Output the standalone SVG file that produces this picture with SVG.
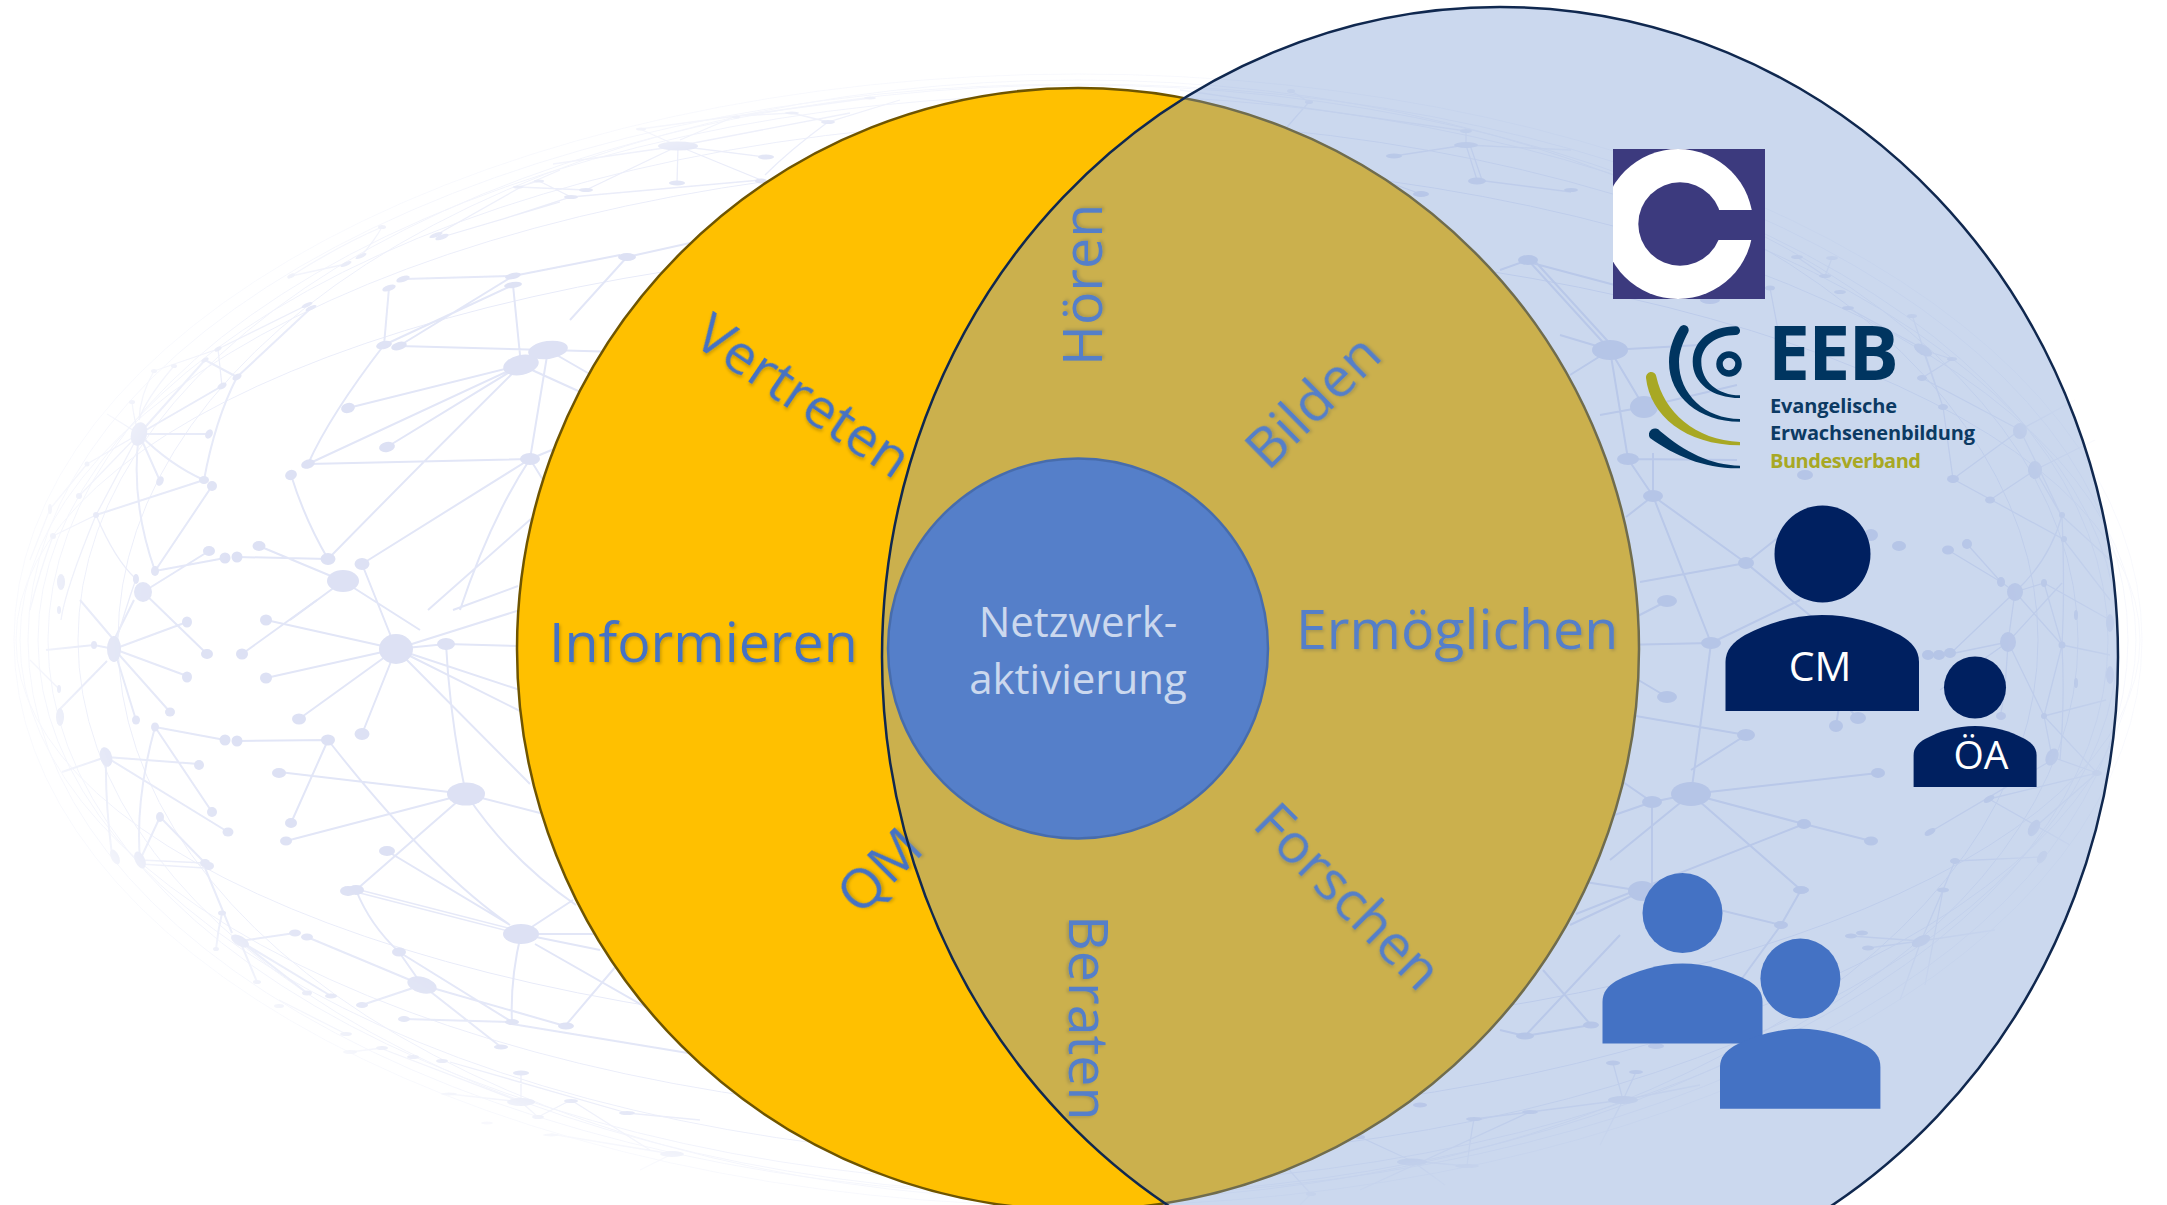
<svg xmlns="http://www.w3.org/2000/svg" width="2167" height="1205" viewBox="0 0 2167 1205">
<style>
text{font-family:"Open Sans","Noto Sans","Liberation Sans",sans-serif}
.lab{fill:#4472C4;font-size:55.5px;filter:url(#sh)}
.in{fill:#fff;font-size:42px;text-anchor:middle}
.wh{fill:#fff;text-anchor:middle}
.eb{font-weight:700;fill:#0C3A63;font-size:20px}
.dk{fill:#003560}
.ol{fill:#A8A824}
.pd{fill:#002060}
.pb{fill:#4472C4}
.nn ellipse{fill:#DDE1F4}
.e1{fill:none;stroke:#E2E6F7;stroke-width:2}
.e2{fill:none;stroke:#E6E9F8;stroke-width:1.3}
.rim{fill:none;stroke:#E8EBF9;stroke-width:1}
</style>
<defs>
<filter id="sh" x="-20%" y="-20%" width="140%" height="140%"><feDropShadow dx="1.5" dy="2" stdDeviation="1.8" flood-color="#000" flood-opacity=".2"/></filter>
<radialGradient id="fade" gradientUnits="userSpaceOnUse" cx="0" cy="0" r="1" gradientTransform="translate(1078 640) scale(1072 572)">
<stop offset="0" stop-color="#fff"/><stop offset=".8" stop-color="#fff"/><stop offset=".93" stop-color="#fff" stop-opacity=".75"/><stop offset="1" stop-color="#fff" stop-opacity=".22"/>
</radialGradient>
<mask id="gm" maskUnits="userSpaceOnUse" x="0" y="0" width="2167" height="1205"><rect width="2167" height="1205" fill="url(#fade)"/></mask>
<clipPath id="cq"><rect x="1613" y="149" width="152" height="150"/></clipPath>
</defs>
<rect width="2167" height="1205" fill="#fff"/>

<g id="network" mask="url(#gm)">
<g class="rim">
<ellipse cx="1078" cy="640" rx="1064" ry="566"/><ellipse cx="1078" cy="640" rx="1050" ry="556"/><ellipse cx="1078" cy="640" rx="1030" ry="545"/><ellipse cx="1078" cy="640" rx="1040" ry="520"/><ellipse cx="1078" cy="640" rx="1000" ry="555"/><ellipse cx="1078" cy="640" rx="960" ry="560"/><ellipse cx="1078" cy="640" rx="1058" ry="480"/><ellipse cx="1078" cy="640" rx="1062" ry="400"/>
</g>
<path class="e1" d="M521 365L513 285M521 365L348 408M521 365L308 464M521 365L387 447M521 365Q430 455 328 559M548 350L399 346M513 276L399 346M513 285L384 345M512 276L404 279M389 288L384 345M384 345Q330 415 308 464M291 475Q305 520 328 559M308 464L530 459M362 564L530 459M548 350L530 459M530 459Q490 520 460 610M530 459L543 480M530 459L600 430M428 610L532 518M518 586L453 610M259 546L343 581M237 557L328 559M343 581L420 630M343 581L290 620M362 564L396 649M521 365L620 410M548 350L620 352M548 350L600 380M513 276L620 255M627 257L570 320M627 257L690 243M396 649L520 610M396 649L520 690M396 649L520 711M396 649L530 784M396 649L266 620M396 649L266 678M396 649L299 719M396 649L362 734M396 649L446 644M446 644Q450 720 466 794M446 644L520 646M466 794L279 772M466 794L286 841M466 794L356 890M466 794L540 813M466 794Q510 860 576 905M328 740L291 823M328 740L237 741M328 740Q430 870 510 925M387 851L510 925M521 934L573 900M521 934L600 934M521 934L600 950M535 944L670 1021M521 934Q510 980 512 1022M356 890Q370 925 399 952M399 952L422 985M399 952L512 1022M422 985L362 1005M422 985L501 1047M422 985L565 1026M404 1019L512 1022M512 1024L700 1055M566 1025L617 965"/>
<path class="e1" d="M155 571L225 558M143 592L209 551M155 571L212 486M155 571Q130 500 139 434M139 434L209 434M139 434L160 481M139 434Q170 465 204 480M139 434L222 386M204 480Q215 420 237 377M96 515L204 480M237 377L205 360M237 377L311 308M139 434L205 360M143 592L207 654M114 649L187 622M114 649L187 676M114 649L170 712M114 649L136 720M242 654L317 600M114 640L134 600M114 640L80 600M46 650L94 645L114 649M58 711L107 661M155 727L225 740M155 727L212 812M155 727Q135 800 140 860M106 757L199 764M106 757L228 832M106 757L62 772M106 757Q105 800 112 855M160 817L140 860M160 817L205 863M205 868L232 933M222 913Q218 930 216 949M240 941L295 933M240 941L257 982M240 941L331 996M240 941L307 993M307 937L422 985"/>
<path class="e2" d="M356 889L512 929M356 892L512 932M140 860L205 863M140 864L205 868M307 305L218 349L154 371M218 349L222 386M139 434Q125 425 107 414M139 434L87 464M139 434L79 496M96 515L139 434M96 515Q115 560 136 579M53 536L96 515M96 515Q65 590 61 620M87 464L50 509M361 256Q375 240 382 227M291 276L346 264M291 276Q340 245 382 227M442 237L560 202M436 235L521 187M521 187L560 170M678 146L765 157M678 146L677 183M678 146L761 180M678 146L586 190M678 146L640 129M678 146L553 164M678 146L850 113M518 187L586 190M500 220L571 197L761 180M539 181L571 197M518 187L539 181M828 122Q790 150 765 175M736 116L680 140M736 116L870 98M792 113L828 122L900 100M640 129L736 116L792 113M521 1102L521 1073M521 1102L538 1117M538 1117L571 1100M571 1100L650 1150M521 1102L449 1094M521 1102L380 1048M346 1034L279 1000M627 1113L450 1062M700 1120L627 1113M672 1154L551 1134M672 1154L640 1170M382 1048L350 1052M132 402Q134 420 139 434M154 371Q140 395 139 420M174 366Q145 400 139 420M53 536Q40 570 30 610M136 579Q125 610 114 649M30 660L59 689M50 509L30 560"/>
<path class="e1" d="M1528 260L1610 350M1532 258L1614 348M1528 260L1500 270M1532 263L1626 288M1610 350L1644 407M1610 350L1628 459M1610 350L1570 375M1610 350L1700 345M1610 350L1560 335M1644 407L1600 415M1644 407L1737 385M1628 459L1737 460M1628 459L1653 496M1653 496L1653 453M1653 496L1746 563M1653 496L1711 643M1653 496L1626 517M1746 563L1640 582M1746 563L1840 640M1746 563L1800 520M1667 601L1630 620M1711 643L1620 645M1711 643L1800 600M1711 643Q1700 730 1691 794M1667 697L1630 675M1746 735L1630 715M1746 735L1691 770M1836 726L1840 700M1858 718L1840 700M1691 794L1878 773M1691 794L1804 824M1804 824L1871 841M1691 794L1801 890M1691 794L1652 802M1652 802L1600 820M1652 802L1652 891M1691 794L1610 860M1652 802L1620 780M1804 824L1576 914M1801 890L1781 925M1642 891L1781 925M1642 891L1560 878M1642 891L1570 925M1781 925L1738 984M1543 970L1591 1025M1525 1036L1591 1025M1525 1036L1620 935M1525 1036L1500 1030"/>
<path class="e2" d="M1477 180L1466 145M1482 180L1470 145M1477 180L1571 192M1466 145L1394 156M1466 145L1571 150M1466 131L1466 145M1421 194L1340 165M1291 91L1309 102M1309 102L1280 135M1180 90L1466 131M1948 550L2001 582M1967 544L2001 582M2015 592L2001 582M2015 592L2044 583M2015 592Q2050 560 2062 515M2015 592L1950 654M2015 592L2062 645M2008 642L1950 654M2008 642L2015 592M2008 642L2044 716M2008 642L2062 583M2008 642L1940 690M2008 642Q2005 700 2000 716M2044 583L2110 620M2062 645L2044 583M2062 645L2110 655M2062 645Q2065 590 2062 515M2062 645Q2065 700 2060 760M2044 716L2052 757M2044 716L2106 700M2044 716L2097 773M2062 645L2044 716M1990 500L2035 470M1953 479L2063 539L2110 600M1953 479L2020 430M2020 430L2075 400M2035 470L2095 440M2061 515L2035 470M2061 515Q2040 470 2020 430M2061 515L2110 560M1923 350L1943 407M1923 350L1952 359M1922 378L1952 359M1922 378L2020 430M1943 407L1953 479M1848 308L1920 347M1912 315L1943 407M2052 757L2097 773M1989 799L2097 773M1989 799L2070 845M1930 832L2052 760M2034 828L2097 773M1955 861L2042 857M1955 861L1943 890L1921 941M1921 941L1851 936M1921 941L1868 948M1921 941L1995 930M1921 941L1900 1000M1943 890L1925 985M1623 1100L1613 1063M1623 1100L1636 1072M1623 1100L1530 1112L1474 1119M1474 1119Q1470 1140 1467 1166M1412 1161L1467 1166M1412 1161L1360 1137M1412 1161L1445 1185M1623 1100L1600 1145M1623 1100L1700 1085M1530 1112L1360 1190M1311 1194L1280 1160M1311 1194L1300 1205M1797 257L1825 276L1832 258M1770 288L1778 330"/>
<g class="nn">
<ellipse cx="521" cy="365" rx="18" ry="10" transform="rotate(-12 521 365)"/><ellipse cx="548" cy="350" rx="20" ry="9" transform="rotate(-8 548 350)"/><ellipse cx="513" cy="276" rx="8" ry="3" transform="rotate(-12 513 276)"/><ellipse cx="513" cy="285" rx="9" ry="3" transform="rotate(-8 513 285)"/><ellipse cx="403" cy="279" rx="7" ry="3" transform="rotate(-18 403 279)"/><ellipse cx="389" cy="288" rx="7" ry="3" transform="rotate(-18 389 288)"/><ellipse cx="384" cy="345" rx="8" ry="4" transform="rotate(-12 384 345)"/><ellipse cx="399" cy="346" rx="8" ry="4" transform="rotate(-16 399 346)"/><ellipse cx="348" cy="408" rx="7" ry="5" transform="rotate(-15 348 408)"/><ellipse cx="387" cy="447" rx="8" ry="5" transform="rotate(-10 387 447)"/><ellipse cx="308" cy="464" rx="7" ry="4.5" transform="rotate(-18 308 464)"/><ellipse cx="291" cy="475" rx="6" ry="5" transform="rotate(-20 291 475)"/><ellipse cx="530" cy="459" rx="10" ry="6"/><ellipse cx="328" cy="559" rx="7.5" ry="6"/><ellipse cx="343" cy="581" rx="16" ry="11"/><ellipse cx="362" cy="564" rx="7.5" ry="6"/><ellipse cx="259" cy="546" rx="6.5" ry="5"/><ellipse cx="225" cy="558" rx="5.5" ry="5.5"/><ellipse cx="237" cy="557" rx="5.5" ry="5.5"/><ellipse cx="209" cy="551" rx="6" ry="5"/><ellipse cx="155" cy="571" rx="4" ry="5"/><ellipse cx="143" cy="592" rx="9" ry="10"/><ellipse cx="136" cy="579" rx="3" ry="5"/><ellipse cx="139" cy="434" rx="8" ry="12" transform="rotate(15 139 434)"/><ellipse cx="209" cy="434" rx="3.5" ry="5" transform="rotate(30 209 434)"/><ellipse cx="160" cy="481" rx="3.5" ry="5" transform="rotate(25 160 481)"/><ellipse cx="204" cy="480" rx="5" ry="4"/><ellipse cx="212" cy="486" rx="5" ry="5"/><ellipse cx="96" cy="515" rx="3" ry="3"/><ellipse cx="53" cy="536" rx="3" ry="3"/><ellipse cx="61" cy="582" rx="4" ry="8"/><ellipse cx="237" cy="377" rx="5" ry="3" transform="rotate(-30 237 377)"/><ellipse cx="222" cy="386" rx="5" ry="3" transform="rotate(-30 222 386)"/><ellipse cx="205" cy="360" rx="4" ry="2" transform="rotate(-30 205 360)"/><ellipse cx="218" cy="349" rx="4" ry="2" transform="rotate(-30 218 349)"/><ellipse cx="311" cy="308" rx="6" ry="2" transform="rotate(-25 311 308)"/><ellipse cx="307" cy="305" rx="6" ry="2" transform="rotate(-25 307 305)"/><ellipse cx="442" cy="237" rx="7" ry="2.5" transform="rotate(-20 442 237)"/><ellipse cx="436" cy="235" rx="7" ry="2" transform="rotate(-20 436 235)"/><ellipse cx="361" cy="256" rx="6" ry="2" transform="rotate(-25 361 256)"/><ellipse cx="346" cy="264" rx="6" ry="2" transform="rotate(-25 346 264)"/><ellipse cx="291" cy="276" rx="4" ry="2" transform="rotate(-25 291 276)"/><ellipse cx="382" cy="227" rx="4" ry="2"/><ellipse cx="154" cy="371" rx="3" ry="2"/><ellipse cx="174" cy="366" rx="3" ry="2"/><ellipse cx="132" cy="402" rx="3" ry="2"/><ellipse cx="50" cy="509" rx="2" ry="5"/><ellipse cx="79" cy="496" rx="3" ry="3"/><ellipse cx="87" cy="464" rx="2.5" ry="2.5"/>
<ellipse cx="678" cy="146" rx="20" ry="4.5"/><ellipse cx="766" cy="157" rx="8" ry="2.5"/><ellipse cx="677" cy="183" rx="8" ry="2.5"/><ellipse cx="761" cy="181" rx="6" ry="2.5"/><ellipse cx="586" cy="190" rx="7" ry="2"/><ellipse cx="571" cy="197" rx="7" ry="2"/><ellipse cx="539" cy="181" rx="5" ry="1.5"/><ellipse cx="518" cy="187" rx="5" ry="1.5"/><ellipse cx="627" cy="257" rx="9" ry="4"/><ellipse cx="828" cy="122" rx="7" ry="2"/><ellipse cx="792" cy="113" rx="7" ry="1.5"/><ellipse cx="736" cy="117" rx="4" ry="1.5"/><ellipse cx="870" cy="98" rx="6" ry="1.5"/><ellipse cx="641" cy="129" rx="5" ry="1.5"/>
<ellipse cx="396" cy="649" rx="17" ry="15"/><ellipse cx="446" cy="644" rx="9" ry="6"/><ellipse cx="114" cy="649" rx="7" ry="13"/><ellipse cx="94" cy="645" rx="3" ry="4"/><ellipse cx="207" cy="654" rx="6" ry="5"/><ellipse cx="187" cy="622" rx="5" ry="5.5"/><ellipse cx="187" cy="677" rx="5" ry="5.5"/><ellipse cx="266" cy="620" rx="6" ry="5.5"/><ellipse cx="242" cy="654" rx="6" ry="5.5"/><ellipse cx="266" cy="678" rx="6" ry="5.5"/><ellipse cx="299" cy="719" rx="7" ry="5.5"/><ellipse cx="362" cy="734" rx="7.5" ry="6"/><ellipse cx="170" cy="712" rx="5" ry="4.5"/><ellipse cx="136" cy="720" rx="4" ry="4.5"/><ellipse cx="155" cy="727" rx="4" ry="4.5"/><ellipse cx="225" cy="740" rx="5.5" ry="5.5"/><ellipse cx="237" cy="741" rx="5.5" ry="5.5"/><ellipse cx="328" cy="740" rx="7" ry="5.5"/><ellipse cx="279" cy="773" rx="7" ry="5"/><ellipse cx="466" cy="794" rx="19" ry="11.5"/><ellipse cx="291" cy="823" rx="6" ry="5"/><ellipse cx="286" cy="841" rx="6" ry="4.5"/><ellipse cx="387" cy="851" rx="8" ry="5"/><ellipse cx="348" cy="891" rx="8" ry="5"/><ellipse cx="356" cy="890" rx="8" ry="5"/><ellipse cx="521" cy="934" rx="18" ry="10"/><ellipse cx="399" cy="952" rx="7" ry="4.5"/><ellipse cx="422" cy="985" rx="15" ry="8" transform="rotate(15 422 985)"/><ellipse cx="512" cy="1022" rx="7" ry="3"/><ellipse cx="566" cy="1026" rx="8" ry="3.5"/><ellipse cx="404" cy="1019" rx="6" ry="3"/><ellipse cx="501" cy="1047" rx="7" ry="2.5"/><ellipse cx="362" cy="1005" rx="6" ry="3"/><ellipse cx="331" cy="996" rx="6" ry="2.5"/><ellipse cx="307" cy="993" rx="5" ry="2.5"/><ellipse cx="257" cy="982" rx="4" ry="2"/><ellipse cx="240" cy="941" rx="10" ry="5" transform="rotate(30 240 941)"/><ellipse cx="295" cy="933" rx="6" ry="3.5"/><ellipse cx="307" cy="937" rx="6" ry="3.5"/><ellipse cx="222" cy="913" rx="4" ry="2.5"/><ellipse cx="216" cy="949" rx="3" ry="2"/><ellipse cx="205" cy="863" rx="5" ry="4"/><ellipse cx="209" cy="866" rx="5" ry="4"/><ellipse cx="160" cy="817" rx="4" ry="5"/><ellipse cx="140" cy="860" rx="5" ry="9" transform="rotate(-25 140 860)"/><ellipse cx="115" cy="857" rx="4" ry="8" transform="rotate(-25 115 857)"/><ellipse cx="106" cy="757" rx="6" ry="10" transform="rotate(-15 106 757)"/><ellipse cx="199" cy="765" rx="5" ry="5"/><ellipse cx="212" cy="812" rx="5" ry="5"/><ellipse cx="228" cy="832" rx="5.5" ry="4.5"/><ellipse cx="60" cy="717" rx="4" ry="9"/><ellipse cx="59" cy="689" rx="2" ry="4"/><ellipse cx="59" cy="610" rx="2" ry="4"/>
<ellipse cx="521" cy="1102" rx="14" ry="4"/><ellipse cx="521" cy="1073" rx="8" ry="2.5"/><ellipse cx="571" cy="1101" rx="7" ry="2"/><ellipse cx="538" cy="1117" rx="6" ry="2"/><ellipse cx="627" cy="1113" rx="8" ry="2"/><ellipse cx="672" cy="1154" rx="12" ry="3"/><ellipse cx="551" cy="1135" rx="8" ry="1.5"/><ellipse cx="346" cy="1034" rx="6" ry="2"/><ellipse cx="382" cy="1048" rx="6" ry="2"/><ellipse cx="350" cy="1052" rx="7" ry="2"/><ellipse cx="413" cy="1057" rx="6" ry="2"/><ellipse cx="442" cy="1061" rx="6" ry="2"/><ellipse cx="279" cy="1006" rx="5" ry="2"/><ellipse cx="449" cy="1094" rx="8" ry="1.5"/><ellipse cx="487" cy="1123" rx="6" ry="1.5"/>
<ellipse cx="1528" cy="260" rx="10" ry="5"/><ellipse cx="1610" cy="350" rx="18" ry="10"/><ellipse cx="1644" cy="407" rx="14" ry="11"/><ellipse cx="1628" cy="459" rx="11" ry="6"/><ellipse cx="1653" cy="496" rx="10" ry="6"/><ellipse cx="1746" cy="563" rx="8" ry="6"/><ellipse cx="1667" cy="601" rx="10" ry="6"/><ellipse cx="1711" cy="643" rx="10" ry="6"/><ellipse cx="1667" cy="697" rx="10" ry="6"/><ellipse cx="1746" cy="735" rx="9" ry="6"/><ellipse cx="1836" cy="726" rx="7" ry="6"/><ellipse cx="1858" cy="718" rx="8" ry="6"/><ellipse cx="1477" cy="181" rx="9" ry="3.5"/><ellipse cx="1466" cy="145" rx="12" ry="3"/><ellipse cx="1466" cy="131" rx="6" ry="2"/><ellipse cx="1421" cy="194" rx="8" ry="3"/><ellipse cx="1394" cy="156" rx="8" ry="2.5"/><ellipse cx="1571" cy="190" rx="7" ry="2"/><ellipse cx="1291" cy="91" rx="4" ry="2"/><ellipse cx="1309" cy="102" rx="4" ry="2"/><ellipse cx="1691" cy="794" rx="20" ry="12"/><ellipse cx="1652" cy="802" rx="10" ry="6"/><ellipse cx="1878" cy="773" rx="7" ry="5"/><ellipse cx="1804" cy="824" rx="7" ry="5"/><ellipse cx="1871" cy="841" rx="7" ry="4.5"/><ellipse cx="1801" cy="890" rx="8" ry="4"/><ellipse cx="1781" cy="925" rx="7" ry="4"/><ellipse cx="1642" cy="891" rx="14" ry="10"/><ellipse cx="1899" cy="546" rx="7" ry="5"/><ellipse cx="1871" cy="535" rx="7" ry="6"/><ellipse cx="1948" cy="550" rx="6" ry="4.5"/><ellipse cx="1967" cy="544" rx="5" ry="5"/><ellipse cx="2001" cy="582" rx="4" ry="5"/><ellipse cx="2015" cy="592" rx="8" ry="9"/><ellipse cx="2008" cy="642" rx="8" ry="10"/><ellipse cx="2044" cy="583" rx="3" ry="4"/><ellipse cx="2062" cy="645" rx="3.5" ry="3.5"/><ellipse cx="2044" cy="716" rx="3" ry="3"/><ellipse cx="2001" cy="716" rx="5" ry="4"/><ellipse cx="1928" cy="655" rx="6" ry="5"/><ellipse cx="1939" cy="655" rx="6" ry="5"/><ellipse cx="1950" cy="653" rx="6" ry="5"/><ellipse cx="2052" cy="757" rx="6" ry="9" transform="rotate(25 2052 757)"/><ellipse cx="1989" cy="799" rx="6" ry="3" transform="rotate(-30 1989 799)"/><ellipse cx="1930" cy="832" rx="6" ry="3" transform="rotate(-30 1930 832)"/><ellipse cx="2034" cy="828" rx="5" ry="9" transform="rotate(30 2034 828)"/><ellipse cx="2042" cy="857" rx="4" ry="7" transform="rotate(35 2042 857)"/><ellipse cx="1955" cy="861" rx="5" ry="3"/><ellipse cx="1943" cy="890" rx="6" ry="2.5"/><ellipse cx="1921" cy="941" rx="10" ry="5" transform="rotate(-25 1921 941)"/><ellipse cx="1851" cy="936" rx="6" ry="2.5"/><ellipse cx="1862" cy="933" rx="6" ry="2.5"/><ellipse cx="1868" cy="948" rx="6" ry="2.5"/><ellipse cx="2097" cy="773" rx="5" ry="3"/><ellipse cx="2110" cy="623" rx="4" ry="9"/><ellipse cx="2110" cy="675" rx="4" ry="9"/><ellipse cx="2076" cy="615" rx="2" ry="5"/><ellipse cx="2076" cy="683" rx="2" ry="5"/><ellipse cx="2062" cy="515" rx="3" ry="3"/><ellipse cx="2064" cy="539" rx="3" ry="3"/><ellipse cx="1990" cy="500" rx="5" ry="3.5"/><ellipse cx="1953" cy="479" rx="6" ry="4"/><ellipse cx="1923" cy="350" rx="10" ry="5" transform="rotate(30 1923 350)"/><ellipse cx="1922" cy="378" rx="5" ry="3"/><ellipse cx="1943" cy="407" rx="5" ry="3"/><ellipse cx="1952" cy="359" rx="5" ry="2"/><ellipse cx="2020" cy="431" rx="7" ry="8"/><ellipse cx="2035" cy="470" rx="7" ry="9"/><ellipse cx="1805" cy="475" rx="8" ry="5"/><ellipse cx="1912" cy="316" rx="5" ry="2"/><ellipse cx="1848" cy="308" rx="6" ry="2"/><ellipse cx="1840" cy="292" rx="6" ry="2"/><ellipse cx="1797" cy="257" rx="6" ry="2"/><ellipse cx="1825" cy="276" rx="6" ry="2"/><ellipse cx="1832" cy="258" rx="6" ry="2"/><ellipse cx="1770" cy="288" rx="5" ry="2.5"/><ellipse cx="1710" cy="300" rx="10" ry="4"/>
<ellipse cx="1525" cy="1036" rx="9" ry="3.5"/><ellipse cx="1591" cy="1025" rx="8" ry="3.5"/><ellipse cx="1656" cy="1046" rx="8" ry="3"/><ellipse cx="1623" cy="1100" rx="15" ry="4"/><ellipse cx="1613" cy="1063" rx="7" ry="2.5"/><ellipse cx="1636" cy="1072" rx="7" ry="2"/><ellipse cx="1530" cy="1112" rx="8" ry="2"/><ellipse cx="1474" cy="1119" rx="8" ry="2"/><ellipse cx="1412" cy="1162" rx="15" ry="3.5"/><ellipse cx="1467" cy="1166" rx="12" ry="2"/><ellipse cx="1420" cy="1105" rx="7" ry="2.5"/><ellipse cx="1360" cy="1137" rx="5" ry="2"/><ellipse cx="1311" cy="1194" rx="5" ry="2"/>
</g>
</g>

<circle id="circle-yellow" cx="1078" cy="649" r="561" fill="#FFC000" stroke="#6F5500" stroke-width="2.5"/>
<g id="node-core">
<circle cx="1078" cy="648.5" r="190" fill="#4472C4" stroke="#2F5597" stroke-width="2.5"/>
<text class="in" x="1078" y="637">Netzwerk-</text>
<text class="in" x="1078" y="694">aktivierung</text>
</g>
<g id="labels">
<text class="lab" x="549" y="662">Informieren</text>
<text class="lab" x="1296" y="649">Ermöglichen</text>
<text class="lab" transform="translate(691 343) rotate(34)">Vertreten</text>
<text class="lab" transform="translate(860 917) rotate(-45)">QM</text>
<text class="lab" transform="translate(1102 366) rotate(-90)">Hören</text>
<text class="lab" transform="translate(1268 472) rotate(-44.5)">Bilden</text>
<text class="lab" transform="translate(1251 826) rotate(45)">Forschen</text>
<text class="lab" transform="translate(1069 915) rotate(90)">Beraten</text>
</g>
<ellipse id="circle-blue" cx="1500" cy="657" rx="618" ry="650" fill="#7296D1" fill-opacity=".37" stroke="#10284F" stroke-width="2.5"/>

<g id="logo-c">
<rect x="1613" y="149" width="152" height="150" fill="#3C3A7E"/>
<g clip-path="url(#cq)"><circle cx="1678" cy="224" r="75" fill="#fff"/><circle cx="1680" cy="224" r="41.7" fill="#3C3A7E"/><rect x="1680" y="210" width="90" height="30" fill="#3C3A7E"/></g>
</g>
<g id="logo-eeb">
<circle cx="1729" cy="364" r="9.5" fill="none" stroke="#003560" stroke-width="6.5"/>
<path class="dk" d="M1735.7 326.3C1712 326.3 1692.7 340 1692.7 361.7C1692.7 383 1712 398 1740 398L1740 395.3C1718 395 1701.3 382 1701.3 361.7C1701.3 346 1716 335 1735.7 335A4.3 4.3 0 0 0 1735.7 326.3Z"/>
<path class="dk" d="M1679.3 328C1673 338 1669 350 1669 362C1669 397 1700 422 1740 421.7V419C1705 419 1679 394 1679 362C1679 352 1683 342 1688.3 332A4.8 4.8 0 0 0 1679.3 328Z"/>
<path class="ol" d="M1646 378C1650 415 1685 445 1740 445.3V442C1695 440 1664 412 1656.3 376.5A5.2 5.2 0 0 0 1646 378Z"/>
<path class="dk" d="M1650 438C1675 456 1705 469 1740 468.3V465.7C1710 465 1685 452 1660 431A5.5 5.5 0 0 0 1650 438Z"/>
<text x="1768" y="380" font-size="75" font-weight="700" fill="#003560" textLength="131">EEB</text>
<text class="eb" x="1770" y="413" textLength="127">Evangelische</text>
<text class="eb" x="1770" y="440" textLength="205">Erwachsenenbildung</text>
<text class="eb" x="1770" y="468" textLength="151" style="fill:#A8A824">Bundesverband</text>
</g>
<g id="person-cm">
<ellipse class="pd" cx="1822.5" cy="554" rx="48" ry="48.5"/>
<path class="pd" d="M1725.5 711V662C1725.5 650 1733 642 1745 635C1770 622 1795 615 1822 615C1850 615 1875 622 1900 635C1912 642 1919 650 1919 662V711Z"/>
<text class="wh" x="1820" y="681" font-size="41">CM</text>
</g>
<g id="person-oa">
<ellipse class="pd" cx="1975" cy="687.5" rx="31" ry="31"/>
<path class="pd" d="M1913.6 787V755C1913.6 748 1918 743 1925 739C1940 731 1957 726 1975 726C1993 726 2010 731 2025 739C2032 743 2036.6 748 2036.6 755V787Z"/>
<text class="wh" x="1981" y="769" font-size="39">ÖA</text>
</g>
<g id="person-b1">
<ellipse class="pb" cx="1682.5" cy="913" rx="40" ry="40"/>
<path class="pb" d="M1602.5 1043.6V1002C1602.5 992 1608 986 1616 981C1636 971 1660 963.6 1682.5 963.6C1705 963.6 1729 971 1749 981C1757 986 1762.5 992 1762.5 1002V1043.6Z"/>
</g>
<g id="person-b2">
<ellipse class="pb" cx="1800.4" cy="978.6" rx="40" ry="40"/>
<path class="pb" d="M1720 1108.8V1067C1720 1057 1726 1051 1734 1046C1754 1036 1778 1028.8 1800.4 1028.8C1823 1028.8 1847 1036 1867 1046C1875 1051 1880.4 1057 1880.4 1067V1108.8Z"/>
</g>
</svg>
